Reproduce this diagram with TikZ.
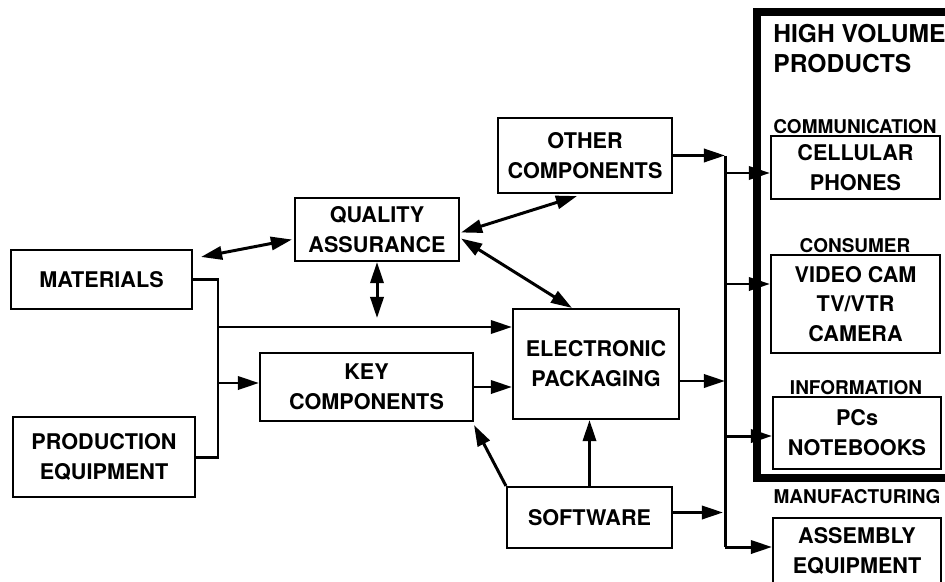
\documentclass[tikz,border=0pt]{standalone}
\usepackage{fontspec}
\setmainfont{TeX Gyre Heros}
\usetikzlibrary{arrows.meta,calc}

\begin{document}
\begin{tikzpicture}[x=0.02cm,y=-0.02cm,
    box/.style={draw, line width=1.2pt, align=center, inner sep=0pt,
      font=\fontsize{12.3}{17}\selectfont\bfseries},
    conn/.style={line width=1.7pt},
    arr/.style={conn, -{Triangle[length=12pt,width=7.5pt]}},
    darr/.style={conn, {Triangle[length=12pt,width=7.5pt]}-{Triangle[length=12pt,width=7.5pt]}},
    cat/.style={font=\fontsize{10.8}{12}\selectfont\bfseries, inner sep=0pt},
    title/.style={font=\fontsize{14}{16}\selectfont\bfseries, inner sep=0pt, anchor=base west}]
          \useasboundingbox (0,0) rectangle (945,581);

          % sources and components
          \node[box, minimum width=3.62cm, minimum height=1.18cm] (mat) at (101.5,279.5) {MATERIALS};
          \node[box, minimum width=3.64cm, minimum height=1.6cm] (prod) at (104,457) {PRODUCTION\\EQUIPMENT};
          \node[box, minimum width=3.28cm, minimum height=1.26cm] (qa) at (377,229.5) {QUALITY\\ASSURANCE};
          \node[box, minimum width=3.48cm, minimum height=1.5cm] (other) at (585,155.5) {OTHER\\COMPONENTS};
          \node[box, minimum width=4.26cm, minimum height=1.36cm] (key) at (366.5,387) {KEY\\COMPONENTS};
          \node[box, minimum width=3.32cm, minimum height=2.2cm] (elec) at (596,364) {ELECTRONIC\\PACKAGING};
          \node[box, minimum width=3.3cm, minimum height=1.22cm] (soft) at (589.5,517.5) {SOFTWARE};

          % high volume products
          \draw[line width=4.5pt] (757,12) rectangle (980,478);
          \node[title] (hv1) at (773,43) {HIGH VOLUME};
          \node[title] (hv2) at (773,72) {PRODUCTS};

          \node[cat] (ccom) at (855,127) {COMMUNICATION};
          \node[box, minimum width=3.38cm, minimum height=1.26cm] (cell) at (855.5,167.5) {CELLULAR\\PHONES};
          \node[cat] (ccon) at (855,246) {CONSUMER};
          \node[box, minimum width=3.38cm, minimum height=1.96cm] (video) at (855.5,304) {VIDEO CAM\\TV/VTR\\CAMERA};
          \node[cat] (cinf) at (856,388) {INFORMATION};
          \node[box, minimum width=3.36cm, minimum height=1.44cm] (pcs) at (857,433) {PCs\\NOTEBOOKS};
          \node[cat] (cman) at (857,497) {MANUFACTURING};
          \node[box, minimum width=3.36cm, minimum height=1.32cm] (asm) at (857,551) {ASSEMBLY\\EQUIPMENT};

          % left collector
          \coordinate (jn) at (218,400);
          \coordinate (ja) at (218,327);
          \coordinate (jb) at (218,383);
          \draw[conn] (mat.east) -| (jn) |- (prod.east);
          \draw[arr] (ja) -- (ja -| elec.west);
          \draw[arr] (jb) -- (jb -| key.west);

          % quality links
          \draw[darr] ($(mat.north east)+(8,8)$) -- ($(qa.west)+(-2,10)$);
          \draw[darr] (qa.south) -- ($(qa.south)+(0,56)$);
          \draw[darr] ($(qa.east)+(1,3)$) -- ($(other.south)+(-8,2)$);
          \draw[darr] ($(qa.east)+(1,9)$) -- ($(elec.north)+(-24,0)$);

          % into packaging
          \draw[arr] (key.east) -- (key.east -| elec.west);
          \draw[arr] (soft.north west) -- ($(key.south east)+(0,3)$);
          \draw[arr] (soft.north) -- (soft.north |- elec.south);

          % bus
          \coordinate (btop) at (725,155.5);
          \coordinate (bbot) at (725,547);
          \draw[conn] (btop) -- (bbot);
          \coordinate (e1) at ($(elec.east)+(0,17)$);
          \draw[arr] (other.east) -- (btop);
          \draw[arr] (e1) -- (e1 -| btop);
          \draw[arr] ($(soft.east)+(0,-5)$) -- ($(soft.east -| btop)+(-2,-5)$);
          \foreach \n/\dy in {cell/5.5, video/-20, pcs/3}
            \draw[arr] ($(btop |- \n.west)+(0,\dy)$) -- ($(\n.west)+(0,\dy)$);
          \draw[arr] (bbot) -- (bbot -| asm.west);
        \end{tikzpicture}
\end{document}
